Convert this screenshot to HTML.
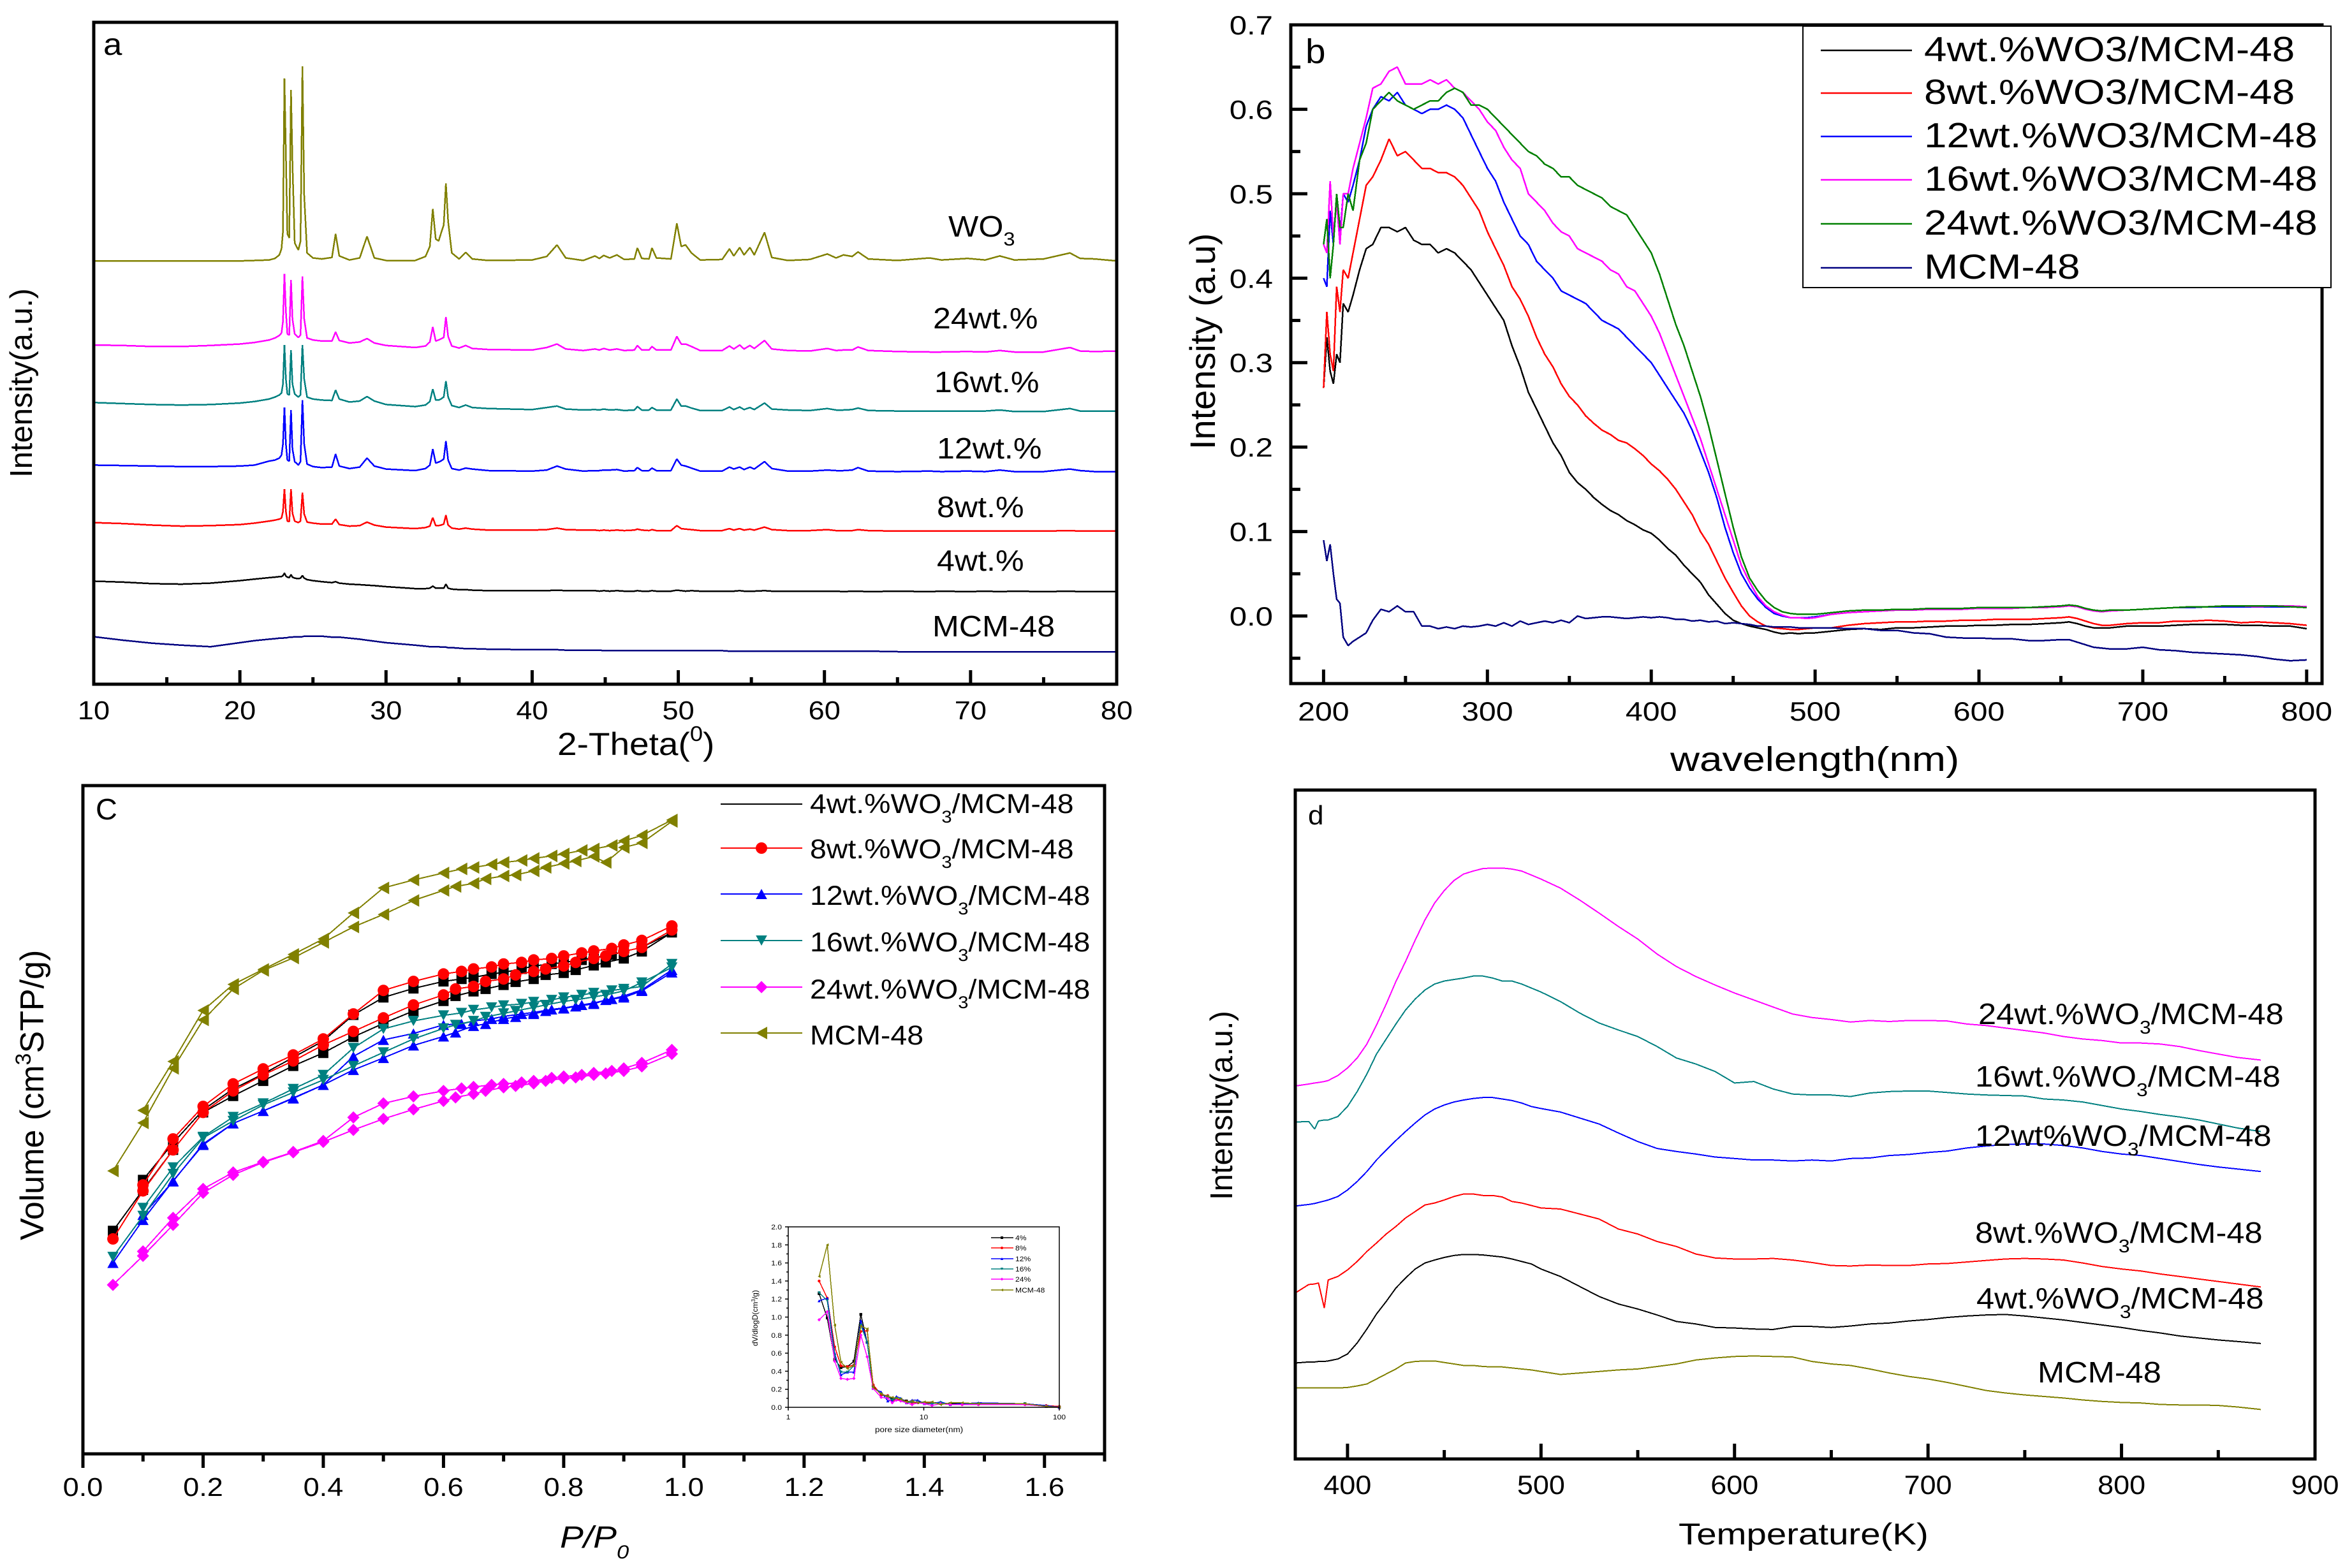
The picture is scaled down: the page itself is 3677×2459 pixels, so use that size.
<!DOCTYPE html>
<html lang="en">
<head>
<meta charset="utf-8">
<title>WO3/MCM-48 characterisation figure</title>
<style>
html,body{margin:0;padding:0;background:#fff}
svg{display:block;font-family:"Liberation Sans",Arial,sans-serif}
text{fill:#000}
</style>
</head>
<body>
<svg id="figure" xmlns="http://www.w3.org/2000/svg" width="3677" height="2459" viewBox="0 0 3677 2459">
<rect x="0" y="0" width="3677" height="2459" fill="#fff"/>

<g id="panel-a"></g>
<g id="panel-b"></g>
<g id="panel-c"></g>
<g id="panel-d"></g>
<g id="panel-inset"></g>

<!-- Panel a text -->
<text transform="translate(162,86) scale(1.1,1)" font-size="48">a</text>
<text transform="translate(1487,371) scale(1.09,1)" font-size="46">WO<tspan dy="14" font-size="30">3</tspan></text>
<text transform="translate(1463,515) scale(1.09,1)" font-size="46">24wt.%</text>
<text transform="translate(1465,615) scale(1.09,1)" font-size="46">16wt.%</text>
<text transform="translate(1469,719) scale(1.09,1)" font-size="46">12wt.%</text>
<text transform="translate(1469,811) scale(1.09,1)" font-size="46">8wt.%</text>
<text transform="translate(1469,895) scale(1.09,1)" font-size="46">4wt.%</text>
<text transform="translate(1462,998) scale(1.09,1)" font-size="46">MCM-48</text>
<text transform="translate(874,1184) scale(1.1,1)" font-size="50">2-Theta(<tspan dy="-22" font-size="33">0</tspan><tspan dy="22">)</tspan></text>
<text transform="translate(50,749) rotate(-90)" font-size="49">Intensity(a.u.)</text>

<!-- Panel b text -->
<text transform="translate(2047,99) scale(1.05,1)" font-size="54">b</text>
<text transform="translate(2619,1209) scale(1.18,1)" font-size="54">wavelength(nm)</text>
<text transform="translate(1905,705) rotate(-90)" font-size="56">Intensity (a.u)</text>

<!-- Panel c text -->
<text transform="translate(150,1285) scale(1.02,1)" font-size="46">C</text>
<text transform="translate(878,2427) scale(1.15,1)" font-size="48" font-style="italic">P/P<tspan dy="17" font-size="30">0</tspan></text>
<text transform="translate(68,1945) rotate(-90)" font-size="52">Volume (cm<tspan dy="-20" font-size="34">3</tspan><tspan dy="20">STP/g)</tspan></text>

<!-- Panel d text -->
<text transform="translate(2051,1293) scale(1.05,1)" font-size="42">d</text>
<text transform="translate(2632,2422) scale(1.2,1)" font-size="47">Temperature(K)</text>
<text transform="translate(1932,1882) rotate(-90)" font-size="49">Intensity(a.u.)</text>
<text transform="translate(3102,1606) scale(1.1,1)" font-size="46">24wt.%WO<tspan dy="15" font-size="29">3</tspan><tspan dy="-15">/MCM-48</tspan></text>
<text transform="translate(3097,1704) scale(1.1,1)" font-size="46">16wt.%WO<tspan dy="15" font-size="29">3</tspan><tspan dy="-15">/MCM-48</tspan></text>
<text transform="translate(3097,1797) scale(1.1,1)" font-size="46">12wt%WO<tspan dy="15" font-size="29">3</tspan><tspan dy="-15">/MCM-48</tspan></text>
<text transform="translate(3097,1949) scale(1.1,1)" font-size="46">8wt.%WO<tspan dy="15" font-size="29">3</tspan><tspan dy="-15">/MCM-48</tspan></text>
<text transform="translate(3099,2052) scale(1.1,1)" font-size="46">4wt.%WO<tspan dy="15" font-size="29">3</tspan><tspan dy="-15">/MCM-48</tspan></text>
<text transform="translate(3195,2168) scale(1.1,1)" font-size="46">MCM-48</text>

<!-- Panel c legend text -->
<text transform="translate(1270,1275) scale(1.08,1)" font-size="43">4wt.%WO<tspan dy="15" font-size="27">3</tspan><tspan dy="-15">/MCM-48</tspan></text>
<text transform="translate(1270,1346) scale(1.08,1)" font-size="43">8wt.%WO<tspan dy="15" font-size="27">3</tspan><tspan dy="-15">/MCM-48</tspan></text>
<text transform="translate(1270,1419) scale(1.08,1)" font-size="43">12wt.%WO<tspan dy="15" font-size="27">3</tspan><tspan dy="-15">/MCM-48</tspan></text>
<text transform="translate(1270,1492) scale(1.08,1)" font-size="43">16wt.%WO<tspan dy="15" font-size="27">3</tspan><tspan dy="-15">/MCM-48</tspan></text>
<text transform="translate(1270,1566) scale(1.08,1)" font-size="43">24wt.%WO<tspan dy="15" font-size="27">3</tspan><tspan dy="-15">/MCM-48</tspan></text>
<text transform="translate(1270,1638) scale(1.08,1)" font-size="43">MCM-48</text>

<!-- Inset text -->
<text transform="translate(1188,2111) rotate(-90)" font-size="12">dV/dlogD(cm<tspan dy="-4" font-size="8">3</tspan><tspan dy="4">/g)</tspan></text>
<text transform="translate(1372,2246) scale(1.12,1)" font-size="12">pore size diameter(nm)</text>

<script>
// ---------- Panel a: XRD ----------
const xrdAngles=[10,12,14,16,18,20,21,22,22.4,22.7,
22.85,22.95,23.05,23.15,23.25,23.38,23.5,23.6,23.75,24.0,
24.15,24.28,24.4,24.6,25,25.6,26.3,26.55,26.8,27.5,
28.2,28.7,29.2,30,32,32.7,33.0,33.2,33.4,33.6,
33.75,33.95,34.1,34.25,34.5,35,35.45,35.9,37,40,
41,41.7,42.3,43.5,44.3,44.6,44.9,45.3,45.8,46.3,
47,47.2,47.5,48,48.2,48.5,49.5,49.9,50.2,50.5,
50.9,51.5,53,53.5,53.8,54.2,54.5,54.9,55.2,55.9,
56.4,57.5,59,60.2,60.8,61.3,61.9,62.3,63,65,
67.2,68,69.8,71,72,73,75,76.8,77.5,78.5,80];
const xrdMcm=[95,88,82,78,75,83,87,90,91,92,
92,92,93,93,93,94,94,94,95,95,
95,95,96,96,96,96,94,94,94,92,
90,88,86,83,78,76,75,75,75,75,
74,74,74,73,73,72,71,71,70,69,
69,69,68,68,68,68,67,67,67,67,
67,67,67,67,67,67,67,67,67,67,
67,67,67,66,66,66,66,66,66,66,
66,66,66,66,66,66,66,66,66,65,
65,65,65,65,65,65,65,65,65,65,65];
const xrd4=[206,204,201,200,202,207,210,213,214,215,
215,217,222,216,214,213,219,214,212,211,
212,217,212,209,207,205,203,205,202,200,
199,198,197,195,191,191,192,196,192,192,
192,192,200,192,190,189,189,188,187,187,
187,188,187,187,187,186,187,186,187,186,
186,187,186,186,187,186,186,188,187,186,
187,186,186,186,186,187,186,186,186,187,
186,186,186,186,186,185,186,186,185,186,
185,186,185,186,185,186,185,186,185,185,185];
const xrd8=[323,321,318,316,317,319,322,326,328,330,
332,345,390,345,326,325,390,342,326,323,
326,383,340,324,322,320,320,330,319,316,
317,324,318,314,311,313,316,333,317,317,
318,320,338,318,312,310,312,310,308,308,
309,312,309,308,308,307,308,307,308,307,
308,310,308,307,309,307,307,317,311,310,
309,307,307,311,308,311,308,310,308,314,
309,307,307,309,307,307,307,309,307,306,
306,306,306,306,306,306,306,307,306,306,306];
const xrd12=[438,437,436,435,435,436,438,446,448,452,
458,480,553,480,448,446,548,470,445,438,
445,568,480,440,435,433,434,460,436,431,
434,452,436,430,427,431,438,470,442,444,
446,450,486,448,431,428,432,430,427,426,
428,436,430,426,427,427,428,428,429,426,
427,433,427,427,432,427,427,450,438,436,
432,426,426,434,430,434,429,434,430,445,
431,426,426,428,427,427,428,433,426,425,
426,425,426,425,428,425,425,430,427,425,425];
const xrd16=[563,561,559,558,559,562,565,570,574,578,
582,600,678,610,580,578,668,600,580,574,
578,678,610,574,570,568,567,588,570,564,
566,575,566,559,555,558,565,590,568,568,
570,574,606,574,557,553,558,553,551,549,
553,556,550,548,549,548,550,548,549,547,
548,555,548,548,553,548,548,570,556,556,
552,547,547,554,549,554,549,553,549,562,
550,548,547,551,548,548,549,552,547,546,
546,546,546,546,548,545,545,551,546,546,546];
const xrd24=[678,677,675,675,677,680,683,688,692,697,
702,725,820,745,700,698,808,730,700,693,
698,815,730,692,688,686,686,704,687,682,
684,691,682,677,673,676,684,714,686,688,
690,693,734,695,676,672,677,671,669,668,
673,680,670,667,670,668,671,668,670,667,
668,677,668,668,675,668,668,695,680,680,
675,667,667,676,670,678,670,677,671,687,
670,667,666,671,667,668,668,674,667,665,
664,664,665,664,667,664,664,673,666,665,666];
const xrdWo3=[846,846,846,846,846,846,847,848,851,858,
870,905,1211,1060,900,892,1188,1040,882,868,
885,1235,977,862,852,850,853,900,856,848,
852,895,852,847,847,855,875,950,890,886,
900,918,1001,925,862,850,863,850,847,848,
855,878,852,847,856,851,857,852,858,849,
850,872,851,850,872,852,850,921,875,878,
862,848,849,870,856,873,858,873,858,903,
853,847,849,860,852,858,855,864,850,847,
852,848,851,848,856,848,850,862,851,850,846];
const xTicksA=[10,20,30,40,50,60,70,80];
const xMinorA=[15,25,35,45,55,65,75];

// ---------- Panel b: UV-vis ----------
const wavelengths=[200,202,204,206,208,210,212,215,218,222,
226,230,235,240,245,250,255,260,265,270,
275,280,285,290,295,300,305,310,315,320,
325,330,335,340,345,350,355,360,365,370,
375,380,385,390,395,400,405,410,415,420,
425,430,435,440,445,450,455,460,465,470,
475,480,485,490,495,500,510,520,530,540,
550,560,570,580,590,600,610,620,630,640,
650,655,660,665,670,675,680,690,700,710,
720,730,740,750,760,770,780,790,800];
const uv4=[.27,.33,.29,.275,.31,.30,.37,.36,.38,.41,
.435,.44,.46,.46,.455,.46,.445,.44,.44,.43,
.435,.43,.42,.41,.395,.38,.365,.35,.32,.295,
.265,.245,.225,.205,.19,.17,.158,.15,.14,.132,
.125,.12,.113,.108,.102,.098,.09,.08,.072,.06,
.05,.04,.025,.014,.003,-.005,-.009,-.012,-.014,-.016,
-.019,-.021,-.02,-.021,-.02,-.02,-.018,-.016,-.015,-.016,
-.014,-.014,-.013,-.012,-.012,-.011,-.011,-.010,-.010,-.009,
-.008,-.007,-.009,-.012,-.014,-.014,-.014,-.012,-.012,-.012,
-.011,-.010,-.010,-.010,-.011,-.011,-.012,-.012,-.015];
const uv8=[.27,.36,.31,.29,.39,.36,.41,.40,.43,.47,
.51,.52,.54,.565,.545,.55,.54,.53,.53,.525,
.525,.52,.51,.495,.48,.455,.435,.415,.39,.375,
.355,.33,.31,.295,.275,.26,.25,.237,.228,.22,
.215,.208,.205,.198,.19,.18,.172,.162,.15,.135,
.12,.10,.085,.065,.045,.028,.012,0,-.007,-.012,
-.014,-.015,-.016,-.016,-.015,-.014,-.014,-.011,-.009,-.008,
-.007,-.007,-.006,-.006,-.005,-.005,-.004,-.004,-.004,-.003,
-.002,-.001,-.003,-.006,-.009,-.011,-.011,-.009,-.008,-.008,
-.006,-.006,-.005,-.006,-.008,-.007,-.008,-.009,-.011];
const uv12=[.40,.39,.48,.44,.50,.45,.50,.49,.51,.54,
.58,.60,.615,.61,.62,.605,.60,.595,.60,.60,
.605,.60,.59,.57,.55,.53,.515,.49,.47,.45,
.44,.42,.41,.40,.385,.38,.375,.37,.36,.35,
.345,.34,.33,.32,.31,.30,.285,.27,.255,.24,
.22,.195,.17,.14,.105,.075,.05,.033,.02,.01,
.003,0,-.002,-.002,-.002,-.001,.002,.004,.005,.006,
.007,.007,.008,.008,.008,.009,.009,.009,.010,.010,
.011,.012,.011,.008,.006,.006,.006,.007,.008,.009,
.010,.010,.011,.011,.011,.011,.011,.011,.010];
const uv16=[.44,.43,.515,.45,.49,.44,.50,.50,.53,.56,
.59,.625,.63,.645,.65,.63,.63,.63,.635,.63,
.635,.625,.62,.61,.60,.585,.575,.555,.54,.53,
.50,.49,.48,.465,.455,.45,.435,.43,.425,.42,
.41,.405,.39,.385,.37,.355,.335,.31,.285,.26,
.235,.21,.18,.15,.12,.09,.06,.04,.023,.012,
.005,.001,-.002,-.002,-.003,-.002,.002,.004,.005,.006,
.007,.007,.008,.008,.008,.009,.009,.009,.010,.010,
.011,.012,.011,.008,.006,.005,.006,.007,.008,.009,
.010,.011,.011,.012,.012,.011,.012,.012,.011];
const uv24=[.44,.47,.40,.44,.50,.46,.46,.50,.48,.54,
.56,.60,.61,.62,.61,.605,.60,.605,.61,.61,
.62,.625,.62,.605,.605,.60,.59,.58,.57,.56,
.55,.545,.535,.53,.52,.52,.51,.505,.50,.495,
.485,.48,.475,.46,.445,.43,.405,.375,.345,.32,
.29,.26,.225,.185,.145,.105,.07,.045,.03,.018,
.01,.005,.003,.002,.002,.002,.004,.006,.007,.007,
.008,.008,.009,.009,.009,.010,.010,.010,.010,.011,
.012,.013,.012,.009,.007,.006,.007,.007,.008,.009,
.010,.011,.011,.012,.012,.012,.012,.011,.010];
const uvMcm=[.09,.065,.085,.05,.02,.015,-.025,-.035,-.03,-.025,
-.02,-.005,.008,.005,.012,.005,.005,-.012,-.012,-.015,
-.013,-.015,-.012,-.013,-.012,-.01,-.012,-.008,-.012,-.006,
-.01,-.008,-.006,-.008,-.005,-.008,0,-.003,-.002,-.001,
-.001,-.002,-.003,-.002,-.001,-.002,-.001,-.002,-.004,-.004,
-.006,-.005,-.007,-.006,-.009,-.008,-.009,-.010,-.012,-.012,
-.013,-.013,-.013,-.014,-.014,-.014,-.014,-.015,-.015,-.017,
-.017,-.020,-.021,-.025,-.026,-.026,-.027,-.027,-.029,-.029,
-.028,-.028,-.031,-.034,-.037,-.038,-.039,-.039,-.037,-.040,
-.041,-.043,-.044,-.045,-.046,-.048,-.051,-.053,-.052];
const xTicksB=[200,300,400,500,600,700,800];
const xMinorB=[250,350,450,550,650,750];
const yTickLabelsB=['0.0','0.1','0.2','0.3','0.4','0.5','0.6','0.7'];
const yMinorB=[-0.05,0.05,0.15,0.25,0.35,0.45,0.55,0.65];
const legendB=['4wt.%WO3/MCM-48','8wt.%WO3/MCM-48','12wt.%WO3/MCM-48','16wt.%WO3/MCM-48','24wt.%WO3/MCM-48','MCM-48'];

// ---------- Panel c: N2 isotherms (adsorption then desorption) ----------
const pressure=[.05,.1,.15,.2,.25,.3,.35,.4,.45,.5,.55,.6,.62,.65,.67,.7,.72,.75,.77,.8,.82,.85,.87,.9,.93,.98,
.98,.93,.9,.88,.85,.83,.8,.78,.75,.73,.7,.68,.65,.63,.6,.55,.5,.45,.4,.35,.3,.25,.2,.15,.1];
const vol4=[446,528,608,683,716,746,776,802,834,861,886,906,916,925,930,938,944,950,958,962,968,977,983,991,1005,1043,
1043,1013,1005,998,993,988,983,980,976,970,963,960,953,950,945,931,913,878,826,793,760,730,688,622,548];
const vol8=[430,526,608,683,726,758,786,818,845,872,898,918,930,935,945,950,958,965,970,976,983,991,996,1005,1013,1048,
1056,1027,1018,1011,1006,1002,996,991,988,983,980,974,970,965,960,945,927,880,830,798,770,740,695,630,538];
const vol12=[382,468,546,618,661,686,712,738,768,792,817,835,843,856,860,870,874,880,886,891,895,900,908,913,926,963,
968,928,916,910,902,898,892,889,883,880,875,870,866,860,858,841,828,795,738,711,686,661,620,545,478];
const vol16=[394,476,560,632,666,698,723,748,776,803,830,851,858,866,874,881,886,893,898,905,908,914,918,926,943,973,
980,935,930,927,922,918,913,908,904,900,897,893,888,882,877,866,850,812,758,730,701,674,634,573,492];
const vol24=[338,396,458,522,558,583,603,624,648,670,689,706,713,720,726,733,736,741,746,751,753,758,761,766,775,800,
808,782,771,766,762,758,755,752,746,743,740,738,734,731,726,715,701,673,626,604,584,563,530,472,405];
const volMcm=[566,662,771,868,930,967,992,1023,1054,1079,1107,1127,1135,1141,1150,1156,1158,1166,1173,1181,1186,1195,1183,1213,1222,1265,
1268,1237,1226,1217,1210,1207,1200,1196,1191,1187,1183,1179,1173,1170,1162,1148,1132,1082,1030,999,969,939,887,785,687];
const xTickLabelsC=['0.0','0.2','0.4','0.6','0.8','1.0','1.2','1.4','1.6'];
const xMinorC=[0.1,0.3,0.5,0.7,0.9,1.1,1.3,1.5,1.7];

// ---------- Inset: pore size distribution ----------
const poreDiameter=[1.69,1.94,2.2,2.45,2.73,3.05,3.43,3.82,4.23,4.85,5.42,5.85,6.28,6.76,7.45,8.2,9.02,10.1,11.5,13.3,15.7,19.2,25.3,55.8,80,100];
const pore4=[1.26,.99,.53,.44,.45,.51,1.03,.72,.24,.14,.12,.09,.10,.09,.07,.06,.06,.05,.05,.05,.04,.04,.04,.04,.01,0];
const pore8=[1.40,1.21,.67,.46,.45,.47,.84,.85,.25,.14,.13,.07,.09,.08,.06,.05,.05,.05,.05,.04,.03,.03,.03,.03,.02,.01];
const pore12=[1.18,1.21,.60,.36,.39,.39,.96,.72,.21,.17,.07,.08,.12,.10,.05,.08,.08,.04,.04,.06,.03,.04,.05,.04,.02,0];
const pore16=[1.27,1.18,.57,.39,.39,.46,.91,.72,.22,.15,.12,.08,.10,.09,.05,.06,.06,.04,.04,.05,.03,.03,.04,.04,.01,0];
const pore24=[.97,1.06,.51,.32,.31,.32,.80,.56,.21,.11,.10,.05,.08,.07,.05,.03,.05,.04,.02,.04,.03,.03,.03,.03,.01,0];
const poreMcm=[1.45,1.80,.91,.50,.43,.46,.90,.87,.22,.15,.12,.11,.10,.09,.06,.07,.05,.06,.06,.03,.05,.05,.04,.04,.01,0];
const insetYLabels=['0.0','0.2','0.4','0.6','0.8','1.0','1.2','1.4','1.6','1.8','2.0'];
const insetXLabels=['1','10','100'];
const insetLegend=['4%','8%','12%','16%','24%','MCM-48'];

// ---------- Panel d: TPD ----------
const temperature=[373,380,383,385,388,390,395,400,405,410,
415,420,425,430,435,440,445,450,455,460,
465,470,475,480,485,490,495,500,510,520,
530,540,550,560,570,580,590,600,610,620,
630,640,650,660,670,680,690,700,710,720,
730,740,750,760,770,780,790,800,810,820,
830,840,850,860,872];
const tpd24=[746,750,752,753,755,757,767,782,802,830,
868,910,955,995,1038,1078,1112,1137,1157,1170,
1176,1181,1182,1182,1180,1176,1168,1160,1142,1118,
1092,1065,1040,1010,985,965,948,932,918,904,
890,883,879,874,877,875,877,877,876,870,
867,862,857,852,845,840,837,832,832,830,
825,817,810,803,798];
const tpd16=[674,675,660,676,678,678,685,705,735,770,
810,840,870,898,920,938,950,956,959,962,
966,966,962,956,956,950,942,934,915,892,
872,858,845,825,802,790,775,752,755,740,
730,728,728,725,732,735,736,736,733,730,
728,727,726,720,718,714,707,700,695,689,
684,678,670,662,655];
const tpd12=[506,509,511,513,516,518,525,538,555,575,
598,618,637,655,672,688,700,708,714,718,
721,723,723,720,717,712,705,701,694,682,
670,652,635,621,615,610,604,601,598,598,
596,598,596,601,602,607,609,613,616,622,
626,629,630,630,627,622,615,610,607,601,
595,589,584,580,575];
const tpd8=[332,349,350,352,302,358,365,378,395,415,
432,450,465,482,495,508,512,518,525,530,
530,527,527,524,515,512,507,502,500,490,
480,460,450,435,425,410,402,400,400,401,
398,393,387,386,388,387,387,390,391,394,
397,400,401,400,398,392,385,380,376,370,
365,360,355,350,344];
const tpd4=[192,194,194,195,195,196,200,210,232,260,
290,315,342,362,380,392,398,403,407,409,
409,408,406,404,400,395,390,380,365,345,
325,310,300,288,275,270,263,262,260,259,
265,265,263,266,270,272,276,279,283,286,
288,289,286,282,278,273,268,263,257,252,
246,242,238,235,231];
const tpdMcm=[142,142,142,142,142,142,142,143,146,150,
160,170,180,192,195,196,196,193,190,187,
187,185,184,184,182,180,178,175,169,172,
175,178,180,185,190,198,202,205,206,205,
204,195,190,187,180,172,165,160,153,145,
137,132,128,125,122,118,115,113,112,109,
108,108,107,104,99];
const xTicksD=[400,500,600,700,800,900];
const xMinorD=[450,550,650,750,850];

// ---------- Axis functions ----------
function linear(d0,d1,r0,r1){return function(v){return r0+(v-d0)*(r1-r0)/(d1-d0);};}
const xA=linear(10,80,147,1751), yA=linear(0,1323,1073,35);
const xB=linear(180,809.4,2024,3641), yB=linear(-0.08,0.7,1072,39);
const xC=linear(0,1.7,130,1732), yC=linear(0,1338,2280,1231);
const xD=linear(373,900,2031,3630), yD=linear(0,1338,2288,1239);
const xI=function(v){return 1236+Math.log10(v)*212.5;}, yI=linear(0,2,2207,1924);

const NS='http://www.w3.org/2000/svg';
function mk(tag,parent,name){
  const el=document.createElementNS(NS,tag);
  
  
  parent.appendChild(el);
  return el;
}
function seg(parent,name,x1,y1,x2,y2,w){
  const l=mk('line',parent,name);
  l.setAttribute('x1',x1);l.setAttribute('y1',y1);l.setAttribute('x2',x2);l.setAttribute('y2',y2);
  l.setAttribute('stroke','#000');l.setAttribute('stroke-width',w);
  return l;
}
function label(parent,name,str,x,y,size,sx,anchor){
  const t=mk('text',parent,name);
  t.setAttribute('transform','translate('+x+','+y+') scale('+sx+',1)');
  t.setAttribute('font-size',size);
  t.setAttribute('text-anchor',anchor||'middle');
  t.textContent=str;
  return t;
}
function curve(parent,name,xs,ys,fx,fy,color,w){
  const p=mk('polyline',parent,name);
  p.setAttribute('points',xs.map(function(x,i){return fx(x).toFixed(1)+','+fy(ys[i]).toFixed(1);}).join(' '));
  p.setAttribute('fill','none');
  p.setAttribute('stroke',color);
  p.setAttribute('stroke-width',w);
  p.setAttribute('stroke-linejoin','bevel');
  p.setAttribute('shape-rendering','crispEdges');
  return p;
}
function markerPath(shape,x,y,s){
  if(shape==='square')return 'M'+(x-s)+' '+(y-s)+'h'+2*s+'v'+2*s+'h'+(-2*s)+'z';
  if(shape==='circle')return 'M'+(x-s)+' '+y+'a'+s+' '+s+' 0 1 0 '+2*s+' 0a'+s+' '+s+' 0 1 0 '+(-2*s)+' 0z';
  if(shape==='up')return 'M'+x+' '+(y-s)+'L'+(x+s*1.1)+' '+(y+s)+'L'+(x-s*1.1)+' '+(y+s)+'z';
  if(shape==='down')return 'M'+x+' '+(y+s)+'L'+(x+s*1.1)+' '+(y-s)+'L'+(x-s*1.1)+' '+(y-s)+'z';
  if(shape==='diamond')return 'M'+x+' '+(y-s*1.2)+'L'+(x+s*1.2)+' '+y+'L'+x+' '+(y+s*1.2)+'L'+(x-s*1.2)+' '+y+'z';
  return 'M'+(x-s)+' '+y+'L'+(x+s)+' '+(y-s*1.1)+'L'+(x+s)+' '+(y+s*1.1)+'z';
}
function markers(parent,name,xs,ys,fx,fy,shape,color,s){
  const p=mk('path',parent,name);
  p.setAttribute('d',xs.map(function(x,i){return markerPath(shape,+fx(x).toFixed(1),+fy(ys[i]).toFixed(1),s);}).join(''));
  p.setAttribute('fill',color);
  return p;
}

// ---------- Draw panel a ----------
const pa=document.getElementById('panel-a');
const aSeries=[['xrd-mcm48',xrdMcm,'#000080'],['xrd-4wt',xrd4,'#000'],['xrd-8wt',xrd8,'#f00'],['xrd-12wt',xrd12,'#00f'],['xrd-16wt',xrd16,'#008080'],['xrd-24wt',xrd24,'#f0f'],['xrd-wo3',xrdWo3,'#808000']];
aSeries.forEach(function(s){curve(pa,s[0],xrdAngles,s[1],xA,yA,s[2],2.5);});
const frameA=mk('rect',pa,'plot-frame-a');
frameA.setAttribute('x',147);frameA.setAttribute('y',35);frameA.setAttribute('width',1604);frameA.setAttribute('height',1038);
frameA.setAttribute('fill','none');frameA.setAttribute('stroke','#000');frameA.setAttribute('stroke-width',5);
xTicksA.forEach(function(v){
  if(v>10&&v<80)seg(pa,'x-tick-major-a',xA(v),1073,xA(v),1051,5);
  label(pa,'x-tick-label-a',String(v),xA(v),1128,41,1.1);
});
xMinorA.forEach(function(v){seg(pa,'x-tick-minor-a',xA(v),1073,xA(v),1062,5);});

// ---------- Draw panel b ----------
const pb=document.getElementById('panel-b');
const bSeries=[['uv-4wt',uv4,'#000'],['uv-8wt',uv8,'#f00'],['uv-12wt',uv12,'#00f'],['uv-16wt',uv16,'#f0f'],['uv-24wt',uv24,'#008000'],['uv-mcm48',uvMcm,'#000080']];
bSeries.forEach(function(s){curve(pb,s[0],wavelengths,s[1],xB,yB,s[2],2.5);});
const frameB=mk('rect',pb,'plot-frame-b');
frameB.setAttribute('x',2024);frameB.setAttribute('y',39);frameB.setAttribute('width',1617);frameB.setAttribute('height',1033);
frameB.setAttribute('fill','none');frameB.setAttribute('stroke','#000');frameB.setAttribute('stroke-width',5);
xTicksB.forEach(function(v){
  seg(pb,'x-tick-major-b',xB(v),1072,xB(v),1050,5);
  label(pb,'x-tick-label-b',String(v),xB(v),1130,42,1.15);
});
xMinorB.forEach(function(v){seg(pb,'x-tick-minor-b',xB(v),1072,xB(v),1060,5);});
yTickLabelsB.forEach(function(s){
  const v=parseFloat(s);
  if(v<0.7)seg(pb,'y-tick-major-b',2024,yB(v),2050,yB(v),5);
  label(pb,'y-tick-label-b',s,1996,yB(v)+15,42,1.17,'end');
});
yMinorB.forEach(function(v){seg(pb,'y-tick-minor-b',2024,yB(v),2039,yB(v),5);});
const legB=mk('g',pb,'legend-b');
const legBox=mk('rect',legB,'legend-box-b');
legBox.setAttribute('x',2827);legBox.setAttribute('y',41);legBox.setAttribute('width',828);legBox.setAttribute('height',410);
legBox.setAttribute('fill','#fff');legBox.setAttribute('stroke','#000');legBox.setAttribute('stroke-width',2);
const legendRowsB=[96,163,231,299,368,437];
legendB.forEach(function(s,i){
  const l=seg(legB,'legend-line-b',2855,legendRowsB[i]-17,2998,legendRowsB[i]-17,2.5);
  l.setAttribute('stroke',bSeries[i][2]);
  label(legB,'legend-entry-b',s,3017,legendRowsB[i],55,1.16,'start');
});

// ---------- Draw panel c ----------
const pc=document.getElementById('panel-c');
const cSeries=[['iso-4wt',vol4,'#000','square',8],['iso-8wt',vol8,'#f00','circle',9],['iso-12wt',vol12,'#00f','up',8],['iso-16wt',vol16,'#008080','down',8],['iso-24wt',vol24,'#f0f','diamond',8],['iso-mcm48',volMcm,'#808000','left',9]];
cSeries.forEach(function(s){
  curve(pc,s[0]+'-line',pressure,s[1],xC,yC,s[2],2);
  markers(pc,s[0]+'-points',pressure,s[1],xC,yC,s[3],s[2],s[4]);
});
const frameC=mk('rect',pc,'plot-frame-c');
frameC.setAttribute('x',130);frameC.setAttribute('y',1232);frameC.setAttribute('width',1602);frameC.setAttribute('height',1048);
frameC.setAttribute('fill','none');frameC.setAttribute('stroke','#000');frameC.setAttribute('stroke-width',5);
xTickLabelsC.forEach(function(s){
  const v=parseFloat(s);
  seg(pc,'x-tick-major-c',xC(v),2280,xC(v),2302,5);
  label(pc,'x-tick-label-c',s,xC(v),2346,41,1.1);
});
xMinorC.forEach(function(v){seg(pc,'x-tick-minor-c',xC(v),2280,xC(v),2292,5);});
const legendRowsC=[1261,1330,1402,1475,1548,1620];
cSeries.forEach(function(s,i){
  const l=seg(pc,'legend-line-c',1130,legendRowsC[i],1258,legendRowsC[i],2);
  l.setAttribute('stroke',s[2]);
  if(i>0){
    const m=mk('path',pc,'legend-marker-c');
    m.setAttribute('d',markerPath(s[3],1194,legendRowsC[i],s[4]));
    m.setAttribute('fill',s[2]);
  }
});

// ---------- Draw inset ----------
const pi=document.getElementById('panel-inset');
const iSeries=[['pore-4',pore4,'#000','square'],['pore-8',pore8,'#f00','circle'],['pore-12',pore12,'#00f','up'],['pore-16',pore16,'#008080','down'],['pore-24',pore24,'#f0f','diamond'],['pore-mcm48',poreMcm,'#808000','left']];
iSeries.forEach(function(s){
  curve(pi,s[0]+'-line',poreDiameter,s[1],xI,yI,s[2],1.5);
  markers(pi,s[0]+'-points',poreDiameter,s[1],xI,yI,s[3],s[2],2.2);
});
const frameI=mk('rect',pi,'inset-frame');
frameI.setAttribute('x',1236);frameI.setAttribute('y',1924);frameI.setAttribute('width',425);frameI.setAttribute('height',283);
frameI.setAttribute('fill','none');frameI.setAttribute('stroke','#000');frameI.setAttribute('stroke-width',1.5);
insetYLabels.forEach(function(s){
  const v=parseFloat(s);
  seg(pi,'inset-y-tick',1231,yI(v),1236,yI(v),1.5);
  label(pi,'inset-y-tick-label',s,1226,yI(v)+4,11,1.1,'end');
  if(v<2)seg(pi,'inset-y-tick-minor',1233,yI(v+0.1),1236,yI(v+0.1),1.5);
});
insetXLabels.forEach(function(s){
  const v=parseFloat(s);
  seg(pi,'inset-x-tick',xI(v),2207,xI(v),2212,1.5);
  label(pi,'inset-x-tick-label',s,xI(v),2226,11,1.1);
});
const insetRows=[1941,1957,1974,1990,2006,2023];
insetLegend.forEach(function(s,i){
  const l=seg(pi,'inset-legend-line',1554,insetRows[i],1589,insetRows[i],1.5);
  l.setAttribute('stroke',iSeries[i][2]);
  const m=mk('path',pi,'inset-legend-marker');
  m.setAttribute('d',markerPath(iSeries[i][3],1571,insetRows[i],2));
  m.setAttribute('fill',iSeries[i][2]);
  label(pi,'inset-legend-entry',s,1592,insetRows[i]+4,11,1.1,'start');
});

// ---------- Draw panel d ----------
const pd=document.getElementById('panel-d');
const dSeries=[['tpd-mcm48',tpdMcm,'#808000'],['tpd-4wt',tpd4,'#000'],['tpd-8wt',tpd8,'#f00'],['tpd-12wt',tpd12,'#00f'],['tpd-16wt',tpd16,'#008080'],['tpd-24wt',tpd24,'#f0f']];
dSeries.forEach(function(s){curve(pd,s[0],temperature,s[1],xD,yD,s[2],2);});
const frameD=mk('rect',pd,'plot-frame-d');
frameD.setAttribute('x',2031);frameD.setAttribute('y',1239);frameD.setAttribute('width',1599);frameD.setAttribute('height',1049);
frameD.setAttribute('fill','none');frameD.setAttribute('stroke','#000');frameD.setAttribute('stroke-width',5);
xTicksD.forEach(function(v){
  if(v<900)seg(pd,'x-tick-major-d',xD(v),2288,xD(v),2264,5);
  label(pd,'x-tick-label-d',String(v),xD(v),2343,42,1.07);
});
xMinorD.forEach(function(v){seg(pd,'x-tick-minor-d',xD(v),2288,xD(v),2274,5);});
</script>
</svg>
</body>
</html>
